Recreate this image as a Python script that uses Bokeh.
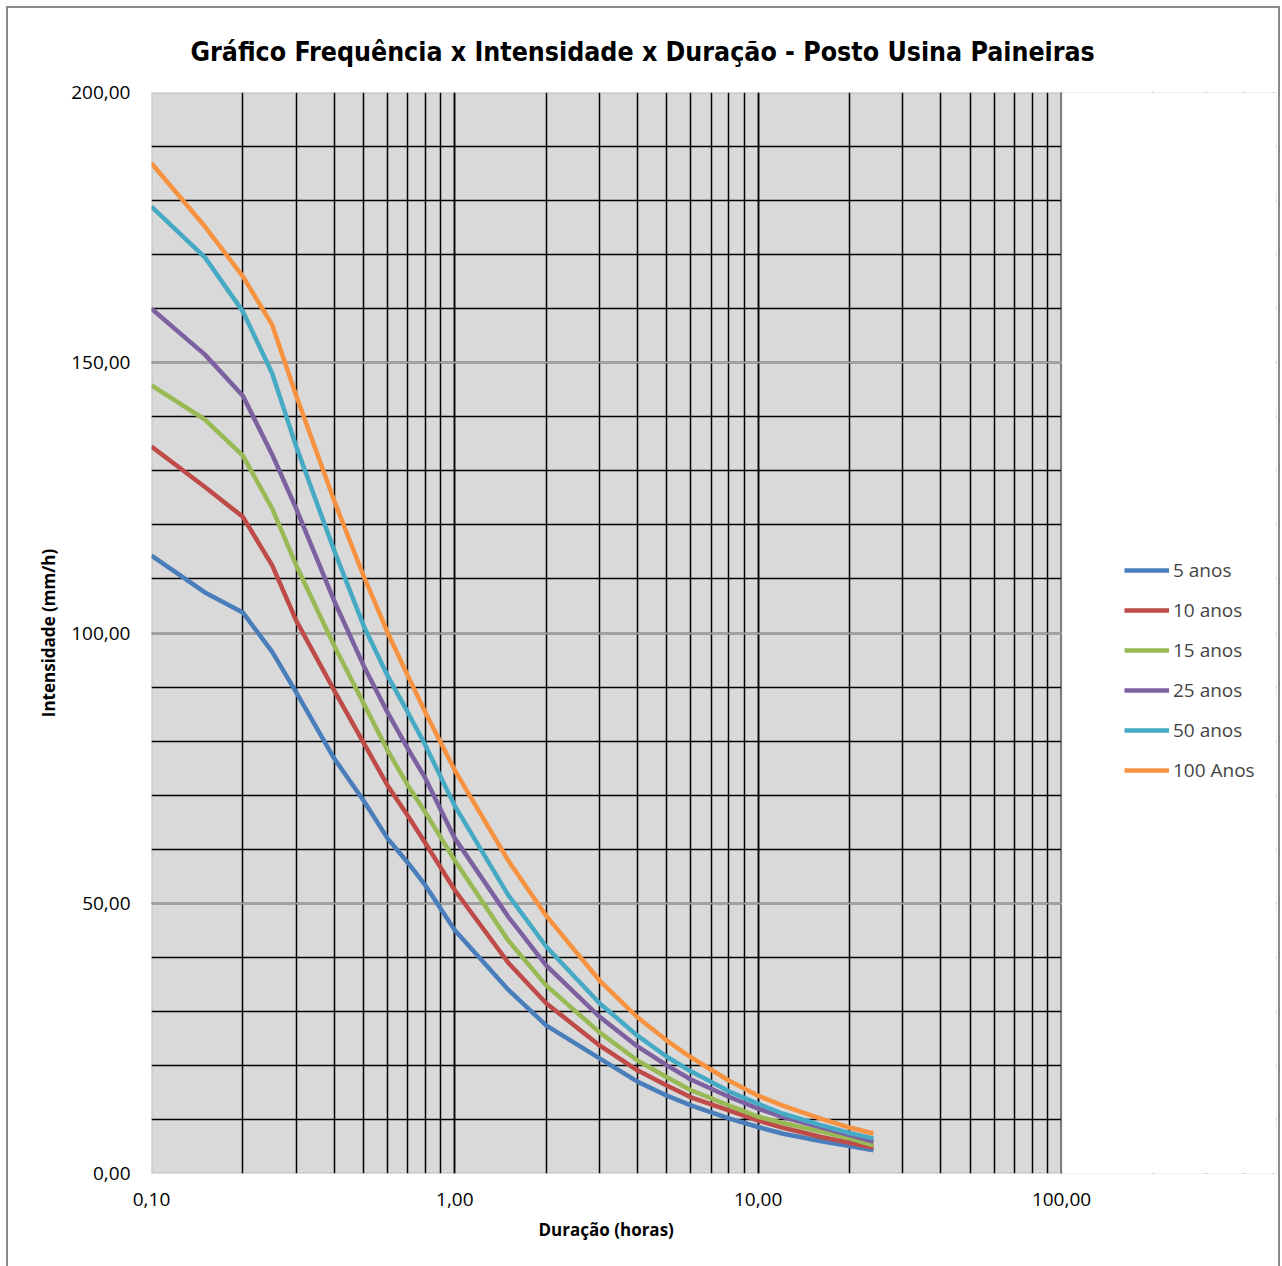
from bokeh.plotting import figure
from bokeh.models import (Range1d, CustomJSTickFormatter, Legend, LegendItem, LogTicker,
                          SingleIntervalTicker, Title, BoxAnnotation)
from bokeh.embed import file_html
from bokeh.resources import INLINE

durations = [0.1, 0.15, 0.2, 0.25, 0.3, 0.4, 0.5, 0.6, 0.7, 0.8, 1, 1.5, 2, 3, 4, 5, 6, 8, 10, 12, 16, 20, 24]
anos_5 = [114.3, 107.5, 103.8, 96.5, 89.0, 76.8, 69.0, 62.0, 57.5, 53.3, 45.0, 34.0, 27.4, 21.3, 17.0, 14.4, 12.6, 10.2, 8.6, 7.4, 6.0, 5.1, 4.3]
anos_10 = [134.5, 127.0, 121.5, 112.5, 102.3, 89.4, 79.7, 71.8, 66.2, 61.1, 52.4, 39.0, 31.5, 23.7, 19.1, 16.3, 14.1, 11.7, 9.8, 8.5, 6.8, 5.7, 4.8]
anos_15 = [145.8, 139.5, 132.8, 123.0, 112.5, 97.7, 87.0, 78.3, 71.8, 66.8, 57.9, 43.1, 34.8, 26.1, 20.9, 17.8, 15.4, 12.6, 10.5, 9.4, 7.8, 6.5, 5.2]
anos_25 = [160.0, 151.5, 143.9, 133.0, 123.0, 106.0, 94.0, 85.3, 78.6, 73.1, 62.0, 47.5, 38.5, 29.0, 23.5, 20.0, 17.4, 14.2, 12.0, 10.5, 8.6, 7.1, 5.9]
anos_50 = [178.9, 169.5, 159.5, 148.0, 134.5, 115.3, 101.4, 92.1, 85.3, 79.2, 68.0, 51.5, 42.0, 31.5, 25.5, 21.6, 18.9, 15.2, 12.9, 11.1, 9.0, 7.5, 6.5]
anos_100 = [186.9, 175.2, 166.0, 157.0, 143.9, 124.5, 110.6, 100.1, 92.1, 85.3, 74.6, 57.9, 47.7, 35.7, 28.9, 24.6, 21.5, 17.2, 14.4, 12.6, 10.2, 8.5, 7.4]

series_names = ["5 anos", "10 anos", "15 anos", "25 anos", "50 anos", "100 Anos"]
series_values = [anos_5, anos_10, anos_15, anos_25, anos_50, anos_100]
series_colors = ["#4A7EBB", "#BE4B48", "#98B954", "#7D60A0", "#46AAC5", "#F69240"]

x_min, x_max = 0.1, 100
y_min, y_max = 0, 200

title_text = "Gráfico Frequência x Intensidade x Duração - Posto Usina Paineiras"
x_label = "Duração (horas)"
y_label = "Intensidade (mm/h)"

# plot area: 910 px for the 3 decades; the frame is widened to hold the legend
plot_w = 910
frame_w = 1125
x_end = x_max * 10 ** ((frame_w - plot_w) / (plot_w / 3.0))

p = figure(frame_width=frame_w, frame_height=1081, x_axis_type="log",
           x_range=Range1d(x_min, x_end), y_range=Range1d(y_min, y_max),
           output_backend="svg", toolbar_location=None,
           min_border_left=143, min_border_right=2, min_border_top=84, min_border_bottom=99)
p.styles = {"border": "2px solid #8a8a8a", "box-sizing": "border-box",
            "margin-left": "6px", "margin-top": "6px"}

t = Title(text=title_text, align="left", offset=39, text_font_size="26.5px",
          text_font="DejaVu Sans Condensed, DejaVu Sans, sans-serif",
          text_font_style="bold", text_color="#000000", standoff=50,
          vertical_align="middle")
p.add_layout(t, "above")

p.background_fill_color = "#D9D9D9"
p.border_fill_color = "#FFFFFF"
p.outline_line_color = None

# axes
p.xaxis.ticker = LogTicker(num_minor_ticks=10)
p.yaxis.ticker = SingleIntervalTicker(interval=50, num_minor_ticks=5)
fmt = CustomJSTickFormatter(code="return tick.toFixed(2).replace('.', ',');")
p.xaxis.formatter = fmt
p.yaxis.formatter = fmt
for ax in (p.xaxis, p.yaxis):
    ax.major_tick_line_color = None
    ax.minor_tick_line_color = None
    ax.axis_line_color = None
    ax.major_label_text_font = "Open Sans, sans-serif"
    ax.major_label_text_font_size = "19px"
    ax.major_label_text_color = "#000000"
    ax.axis_label_text_font = "Open Sans, sans-serif"
    ax.axis_label_text_font_size = "17px"
    ax.axis_label_text_font_style = "bold"
    ax.axis_label_text_color = "#000000"
p.yaxis.axis_label = y_label
p.xaxis.major_label_standoff = 13
p.yaxis.major_label_standoff = 15
p.yaxis.axis_label_standoff = 8

# x-axis title, centred under the 0.1..100 plot area
xt = Title(text=x_label, align="left", offset=387, text_font_size="17px",
           text_font="Open Sans, sans-serif", text_font_style="bold",
           text_color="#000000", standoff=14)
p.add_layout(xt, "below")

# grids
p.xgrid.grid_line_color = "#000000"
p.xgrid.grid_line_width = 1.5
p.xgrid.minor_grid_line_color = "#000000"
p.xgrid.minor_grid_line_width = 1.5
p.ygrid.grid_line_color = "#A0A0A0"
p.ygrid.grid_line_width = 2
p.ygrid.minor_grid_line_color = "#000000"
p.ygrid.minor_grid_line_width = 1.3

# white area right of the plot area (legend zone)
p.add_layout(BoxAnnotation(left=x_max, fill_color="#FFFFFF", fill_alpha=1,
                           line_color=None, level="underlay"))
# plot-area border
p.add_layout(BoxAnnotation(left=x_min, right=x_max, bottom=y_min, top=y_max,
                           fill_alpha=0, line_color="#868686", line_width=2,
                           level="underlay"))

items = []
for name, vals, col in zip(series_names, series_values, series_colors):
    r = p.line(durations, vals, line_color=col, line_width=4.5)
    items.append(LegendItem(label=name, renderers=[r]))

legend = Legend(items=items, location=(973, 390), glyph_width=45, glyph_height=22,
                label_height=22, spacing=14, padding=0, margin=0,
                label_standoff=4, label_text_font="Open Sans, sans-serif",
                label_text_font_size="19px", background_fill_alpha=0,
                border_line_color=None)
p.add_layout(legend, "center")

open("out.html", "w").write(file_html(p, INLINE))
